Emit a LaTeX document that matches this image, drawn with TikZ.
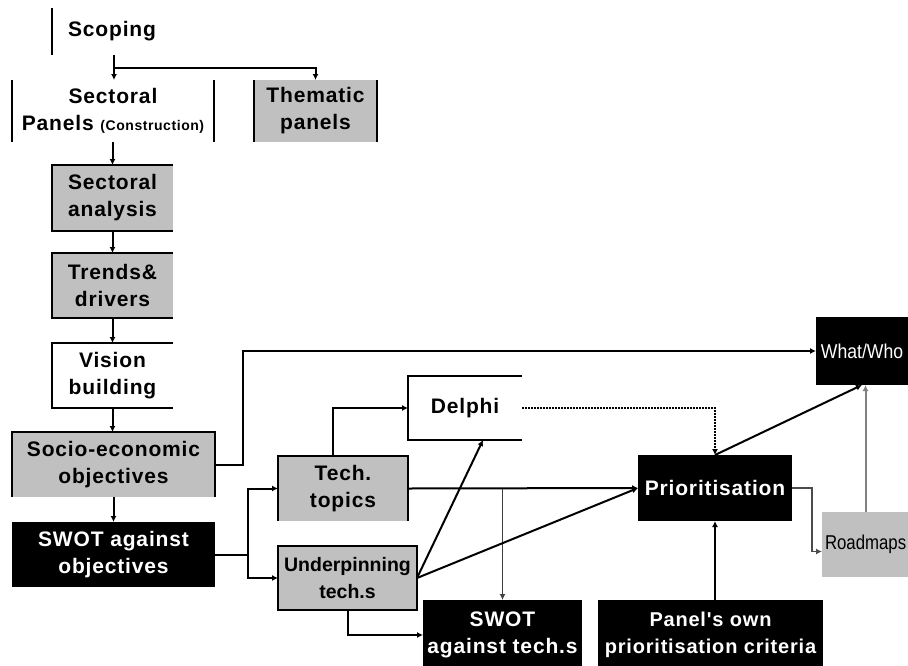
\documentclass[tikz,border=0pt]{standalone}
\usepackage{fontspec}
\setmainfont{Liberation Sans}
\newfontfamily\labfam{Liberation Sans}[LetterSpace=4]
\newfontfamily\labtight{Liberation Sans}
\newfontfamily\narfam{Liberation Sans}[FakeStretch=0.88]
\newfontfamily\narrfam{Liberation Sans}[FakeStretch=0.84]
\usetikzlibrary{arrows.meta,calc}
\definecolor{boxgray}{RGB}{192,192,192}
\newcommand\mainf{\labfam\bfseries\fontsize{21}{27}\selectfont}
\newcommand\narf{\narfam\fontsize{20}{24}\selectfont}
\tikzset{
  lbl/.style={font=\mainf, align=center, inner sep=0pt, outer sep=0pt},
  gbox/.style={lbl, fill=boxgray},
  wbox/.style={lbl, fill=white},
  bbox/.style={lbl, fill=black, text=white},
  bord/.style={line width=1.6pt},
  arr/.style={line width=2pt, -{Latex[length=6pt,width=6pt]}},
}
\begin{document}
\begin{tikzpicture}[x=1pt,y=-1pt]
\useasboundingbox[fill=white] (0,0) rectangle (908,665);
% nodes
\node[wbox, minimum width=120, minimum height=47] (scoping) at (112,31.5) {Scoping};
\node[wbox, minimum width=202, minimum height=62] (secpan) at (113,111)
  {Sectoral\\Panels {\fontsize{14}{16}\selectfont (Construction)}};
\node[gbox, minimum width=123, minimum height=62] (thematic) at (315.5,111) {Thematic\\panels};
\node[gbox, minimum width=121, minimum height=66] (secana) at (112.5,198) {Sectoral\\analysis};
\node[gbox, minimum width=121, minimum height=65] (trends) at (112.5,285.5) {Trends\&\\drivers};
\node[wbox, minimum width=121, minimum height=65] (vision) at (112.5,375.5) {Vision\\building};
\node[gbox, minimum width=203, minimum height=65] (socio) at (113.5,464.5) {Socio-economic\\objectives};
\node[bbox, minimum width=203, minimum height=65] (swotobj) at (113.5,554.5) {SWOT against\\objectives};
\node[gbox, minimum width=130, minimum height=65] (tech) at (343,488.5) {Tech.\\topics};
\node[gbox, minimum width=139, minimum height=64, font=\labtight\bfseries\fontsize{19.5}{27}\selectfont] (under) at (347.5,578) {Underpinning\\tech.s};
\node[wbox, minimum width=114, minimum height=64] (delphi) at (465,408) {Delphi};
\node[bbox, minimum width=154, minimum height=66] (prio) at (715,488) {Prioritisation};
\node[bbox, minimum width=92, minimum height=68, font=\narf] (whatwho) at (862,351) {What/Who};
\node[gbox, minimum height=65, text width=81, inner xsep=3pt, align=left, font=\narrfam\fontsize{20}{24}\selectfont] (roadmaps) at (865.5,544.5) {Roadmaps};
\node[bbox, minimum width=159, minimum height=70] (swottech) at (502.5,635) {SWOT\\against tech.s};
\node[bbox, minimum width=225, minimum height=70, font=\labfam\bfseries\fontsize{20}{27}\selectfont] (panel) at (710.5,635) {Panel's own\\prioritisation criteria};
% partial borders
\draw[bord] (scoping.north west) -- (scoping.south west);
\draw[bord] (secpan.north west) -- (secpan.south west) (secpan.north east) -- (secpan.south east);
\draw[bord] (thematic.north west) -- (thematic.south west) (thematic.north east) -- (thematic.south east);
\foreach \n in {secana,trends,vision,delphi}
  \draw[bord] (\n.north east) -- (\n.north west) -- (\n.south west) -- (\n.south east);
\foreach \n in {socio,tech}
  \draw[bord] (\n.south west) -- (\n.north west) -- (\n.north east) -- (\n.south east);
\draw[bord] (under.north west) rectangle (under.south east);
% connectors
\coordinate (j1) at (114,68);
\draw[arr] (scoping.south -| j1) -- (secpan.north -| j1);
\draw[arr] (j1) -| (thematic.north);
\draw[arr] (secana.north |- secpan.south) -- (secana.north);
\draw[arr] (secana.south) -- (trends.north);
\draw[arr] (trends.south) -- (vision.north);
\draw[arr] (vision.south) -- (vision.south |- socio.north);
\draw[arr] (socio.south) -- (swotobj.north);
\coordinate (k1) at (243,351);
\draw[arr] (socio.east) -| (k1) -- (whatwho.west);
\coordinate (k2) at (248,0);
\draw[arr] (swotobj.east) -| (k2 |- tech.west) -- (tech.west);
\draw[arr] (swotobj.east) -| (k2 |- under.west) -- (under.west);
\draw[arr] ([xshift=-10pt]tech.north) |- (delphi.west);
\draw[arr] (tech.east) -- (prio.west);
\draw[arr, line width=1.5pt, black!75] (swottech.north |- tech.east) -- (swottech.north);
\draw[arr] (under.east) -- (prio.west);
\draw[arr] (under.east) -- ([xshift=18pt]delphi.south);
\draw[arr] (under.south) |- (swottech.west);
\draw[arr, densely dotted] (delphi.east) -| (prio.north);
\draw[arr] (prio.south |- panel.north) -- (prio.south);
\draw[arr] (prio.north) -- (whatwho.south);
\draw[arr, black!70, line width=1.6pt] (prio.east) -- ++(20,0) |- ([yshift=-7pt]roadmaps.west);
\draw[arr, black!50] (roadmaps.north) -- (roadmaps.north |- whatwho.south);
\end{tikzpicture}
\end{document}
